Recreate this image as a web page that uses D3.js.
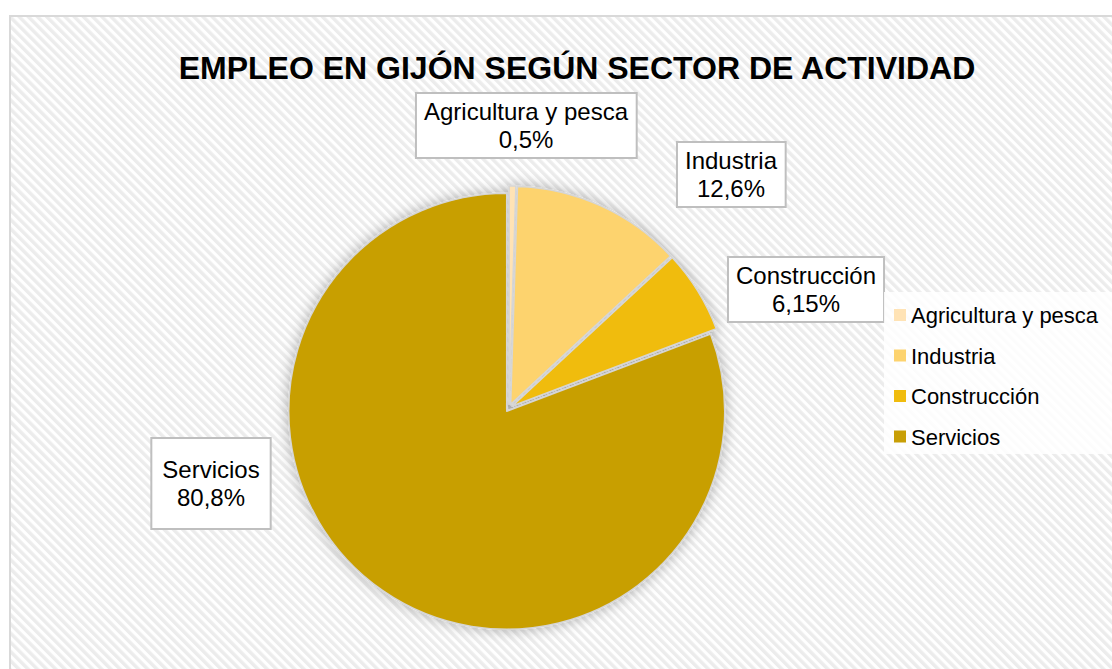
<!DOCTYPE html>
<html>
<head>
<meta charset="utf-8">
<script src="https://cdn.jsdelivr.net/npm/d3@7"></script>
<style>
  body { margin: 0; background: #fff; }
  svg { display: block; font-family: Arial, "Liberation Sans", sans-serif; }
</style>
</head>
<body>
<svg id="chart" width="1112" height="669"></svg>
<script>
// Chart data
const categories = ["Agricultura y pesca", "Industria", "Construcción", "Servicios"];
const values = [0.5, 12.6, 6.15, 80.8];
const valueLabels = ["0,5%", "12,6%", "6,15%", "80,8%"];
const colors = ["#FFE3B5", "#FDD36E", "#F0BC0E", "#C89F06"];
const title = "EMPLEO EN GIJÓN SEGÚN SECTOR DE ACTIVIDAD";

// Layout (label box centres relative to the pie centre, box padding)
const labelOffsets = [[17, -283], [222, -234], [297, -119], [-298, 75]];
const labelPadding = [[8, 5], [8, 5], [8, 5], [11, 18]];

const width = 1112, height = 669;
const cx = 509, cy = 408, radius = 218, explode = 4;

const svg = d3.select("#chart");
const defs = svg.append("defs");

// Diagonal hatch background
const pattern = defs.append("pattern")
    .attr("id", "hatch")
    .attr("patternUnits", "userSpaceOnUse")
    .attr("width", 6.5)
    .attr("height", 6.5)
    .attr("patternTransform", "rotate(-45)");
pattern.append("rect").attr("width", 6.5).attr("height", 6.5).attr("fill", "#ffffff");
pattern.append("rect").attr("width", 3.4).attr("height", 6.5).attr("fill", "#ececec");

// Soft shadow around the pie
const shadow = defs.append("filter")
    .attr("id", "pieShadow")
    .attr("x", "-20%").attr("y", "-20%")
    .attr("width", "140%").attr("height", "140%");
shadow.append("feDropShadow")
    .attr("dx", 0).attr("dy", 0)
    .attr("stdDeviation", 7)
    .attr("flood-color", "#000")
    .attr("flood-opacity", 0.3);

// Chart area
svg.append("rect")
    .attr("x", 10).attr("y", 16)
    .attr("width", width + 20).attr("height", height + 20)
    .attr("fill", "url(#hatch)")
    .attr("stroke", "#d9d9d9")
    .attr("stroke-width", 2);

// Title
svg.append("text")
    .attr("x", 577)
    .attr("y", 79)
    .attr("text-anchor", "middle")
    .style("font-size", "32px")
    .style("font-weight", "bold")
    .style("fill", "#000")
    .text(title);

// Pie
const data = categories.map((c, i) => ({ name: c, value: values[i], label: valueLabels[i], color: colors[i] }));
const pie = d3.pie().value(d => d.value).sort(null);
const arc = d3.arc().innerRadius(0).outerRadius(radius);
const arcs = pie(data);

const pieG = svg.append("g")
    .attr("transform", `translate(${cx},${cy})`)
    .attr("filter", "url(#pieShadow)");

pieG.selectAll("path.slice")
    .data(arcs)
    .enter().append("path")
    .attr("class", "slice")
    .attr("transform", d => {
        const a = (d.startAngle + d.endAngle) / 2;
        return `translate(${Math.sin(a) * explode},${-Math.cos(a) * explode})`;
    })
    .attr("d", arc)
    .attr("fill", d => d.data.color)
    .attr("stroke", "#d6d6d6")
    .attr("stroke-width", 1.5)
    .attr("stroke-linejoin", "round");

// Data labels in boxes
const labelG = svg.append("g").attr("transform", `translate(${cx},${cy})`);
arcs.forEach((d, i) => {
    const [ox, oy] = labelOffsets[i];
    const [padX, padY] = labelPadding[i];
    const g = labelG.append("g").attr("transform", `translate(${ox},${oy})`);
    const box = g.append("rect");
    const t = g.append("text")
        .attr("text-anchor", "middle")
        .style("font-size", "24px")
        .style("fill", "#000");
    t.append("tspan").attr("x", 0).attr("y", -5).text(d.data.name);
    t.append("tspan").attr("x", 0).attr("y", 23).text(d.data.label);
    const bb = t.node().getBBox();
    box.attr("x", bb.x - padX)
        .attr("y", bb.y - padY)
        .attr("width", bb.width + padX * 2)
        .attr("height", bb.height + padY * 2)
        .attr("fill", "#fff")
        .attr("stroke", "#bfbfbf")
        .attr("stroke-width", 2);
});

// Legend
const legend = svg.append("g").attr("transform", "translate(884,292)");
legend.append("rect")
    .attr("width", 240).attr("height", 162)
    .attr("fill", "#fff")
    .attr("fill-opacity", 0.85);
const items = legend.selectAll("g.item")
    .data(data)
    .enter().append("g")
    .attr("class", "item")
    .attr("transform", (d, i) => `translate(10,${23 + i * 40.5})`);
items.append("rect")
    .attr("x", 0).attr("y", -6)
    .attr("width", 12).attr("height", 12)
    .attr("fill", d => d.color);
items.append("text")
    .attr("x", 17)
    .attr("y", 8)
    .style("font-size", "22px")
    .style("fill", "#000")
    .text(d => d.name);
</script>
</body>
</html>
